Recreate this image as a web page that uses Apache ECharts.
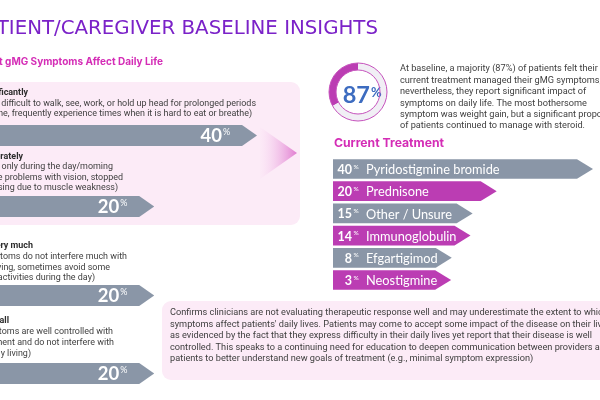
<!DOCTYPE html>
<html><head><meta charset="utf-8">
<script src="https://cdn.jsdelivr.net/npm/echarts@6/dist/echarts.min.js"></script>
<style>html,body{margin:0;padding:0;background:#fff}#c{width:600px;height:400px}</style>
</head><body><div id="c"></div>
<script>
// ---------- data ----------
const titleText = 'PATIENT/CAREGIVER BASELINE INSIGHTS';
const impactTitle = 'Extent gMG Symptoms Affect Daily Life';
const impactLevels = ['Significantly', 'Moderately', 'Not very much', 'Not at all'];
const impactValues = [40, 20, 20, 20];
const impactDescriptions = [
  ['(Symptoms make it difficult to walk, see, work, or hold up head for prolonged periods',
   'of time, frequently experience times when it is hard to eat or breathe)'],
  ['(Symptoms occur only during the day/moming',
   'or I have problems with vision, stopped',
   'exercising due to muscle weakness)'],
  ['(Symptoms do not interfere much with',
   'daily living, sometimes avoid some',
   'physical activities during the day)'],
  ['(Symptoms are well controlled with',
   'treatment and do not interfere with',
   'daily living)']
];
const satisfiedPct = 87;
const ringArcShares = [33, 67];
const summaryLines = [
  'At baseline, a majority (87%) of patients felt their',
  'current treatment managed their gMG symptoms;',
  'nevertheless, they report significant impact of',
  'symptoms on daily life. The most bothersome',
  'symptom was weight gain, but a significant proportion',
  'of patients continued to manage with steroid.'
];
const treatmentTitle = 'Current Treatment';
const treatments = ['Pyridostigmine bromide', 'Prednisone', 'Other / Unsure', 'Immunoglobulin', 'Efgartigimod', 'Neostigmine'];
const treatmentValues = [40, 20, 15, 14, 8, 3];
const conclusionLines = [
  'Confirms clinicians are not evaluating therapeutic response well and may underestimate the extent to which',
  "symptoms affect patients' daily lives. Patients may come to accept some impact of the disease on their lives",
  'as evidenced by the fact that they express difficulty in their daily lives yet report that their disease is well',
  'controlled. This speaks to a continuing need for education to deepen communication between providers and',
  'patients to better understand new goals of treatment (e.g., minimal symptom expression)'
];

// ---------- styles / layout ----------
const GRAY = '#8a96a7';
const MAGENTA = '#bb3db3';
const PINK_BG = '#fcebf7';
const TXT = '#3e3e3e';
const BODY_FONT = 'Roboto, "Noto Sans", sans-serif';
const HEAD_FONT = 'Inter, "Noto Sans", sans-serif';
const TITLE_FONT = '"DejaVu Sans", sans-serif';

const chart = echarts.init(document.getElementById('c'), null, {renderer: 'canvas'});

const measureCtx = document.createElement('canvas').getContext('2d');
function textWidth(str, font) { measureCtx.font = font; return measureCtx.measureText(str).width; }

// left impact arrows: one grid per row
const impactRowCenters = [135.5, 206.5, 295.5, 373.5];
const impactRowH = 21;
const grids = [], xAxes = [], yAxes = [], series = [];
impactLevels.forEach((lvl, i) => {
  grids.push({left: -30, right: 343, top: impactRowCenters[i] - impactRowH / 2, height: impactRowH, containLabel: false});
  xAxes.push({type: 'value', gridIndex: i, min: -10, max: 40, show: false});
  yAxes.push({type: 'category', gridIndex: i, data: [lvl], show: false});
  series.push({
    type: 'custom', xAxisIndex: i, yAxisIndex: i, silent: true,
    data: [[impactValues[i], 0]],
    renderItem: function (params, api) {
      const tip = api.coord([api.value(0), 0]);
      const start = api.coord([-10, 0]);
      const h = api.size([0, 1])[1];
      const y0 = tip[1] - h / 2, y1 = tip[1] + h / 2;
      const head = 15;
      return {type: 'group', children: [
        {type: 'polygon', shape: {points: [[start[0], y0], [tip[0] - head, y0], [tip[0], tip[1]], [tip[0] - head, y1], [start[0], y1]]}, style: {fill: GRAY}},
        {type: 'text', style: {text: String(api.value(0)), x: tip[0] - 35, y: tip[1] + 1, font: 'bold 18.5px Lato, sans-serif', fill: '#fff', textAlign: 'right', textVerticalAlign: 'middle', align: 'right', verticalAlign: 'middle'}},
        {type: 'text', style: {text: '%', x: tip[0] - 34, y: tip[1] - 8, font: '9px Lato, sans-serif', fill: '#fff', textAlign: 'left', textVerticalAlign: 'top', align: 'left', verticalAlign: 'top'}}
      ]};
    }
  });
});

// treatment arrows
const tGrid = grids.length;
grids.push({left: 333, right: 7, top: 157.9, height: 133.2});
xAxes.push({type: 'value', gridIndex: tGrid, min: -14, max: 40, show: false});
yAxes.push({type: 'category', gridIndex: tGrid, data: treatments, inverse: true, show: false});
const NAME_FONT = '12.8px Lato, sans-serif';
series.push({
  type: 'custom', xAxisIndex: tGrid, yAxisIndex: tGrid, silent: true,
  data: treatmentValues.map((v, i) => [v, i]),
  renderItem: function (params, api) {
    const idx = api.value(1);
    const c = api.coord([api.value(0), idx]);
    const start = api.coord([-14, idx])[0];
    const h = api.size([0, 1])[1] - 2.5;
    const y0 = c[1] - h / 2, y1 = c[1] + h / 2;
    const numRight = start + 19;
    const nameX = start + 33;
    const labelEnd = nameX + textWidth(treatments[idx], NAME_FONT);
    const tip = Math.max(c[0], labelEnd + 14);
    const head = 16;
    const color = idx % 2 === 0 ? GRAY : MAGENTA;
    return {type: 'group', children: [
      {type: 'polygon', shape: {points: [[start, y0], [tip - head, y0], [tip, c[1]], [tip - head, y1], [start, y1]]}, style: {fill: color}},
      {type: 'text', style: {text: String(api.value(0)), x: numRight, y: c[1] + 1, font: 'bold 12.5px Lato, sans-serif', fill: '#fff', textAlign: 'right', textVerticalAlign: 'middle', align: 'right', verticalAlign: 'middle'}},
      {type: 'text', style: {text: '%', x: numRight + 1.5, y: c[1] - 6, font: '6.5px Lato, sans-serif', fill: '#fff', textAlign: 'left', textVerticalAlign: 'top', align: 'left', verticalAlign: 'top'}},
      {type: 'text', style: {text: treatments[idx], x: nameX, y: c[1] + 1, font: NAME_FONT, fill: '#fff', textAlign: 'left', textVerticalAlign: 'middle', align: 'left', verticalAlign: 'middle'}}
    ]};
  }
});

// ring
series.push({
  type: 'pie', center: [358, 92], radius: [22, 29], silent: true, startAngle: 90, clockwise: false,
  label: {show: false}, labelLine: {show: false},
  data: [{value: ringArcShares[0], itemStyle: {color: MAGENTA}}, {value: ringArcShares[1], itemStyle: {color: '#f1eff5'}}],
  z: 2
});

function t(x, y, text, font, fill, align, valign, extra) {
  return Object.assign({type: 'text', x: x, y: y, z: 20, silent: true,
    style: Object.assign({text: text, font: font, fill: fill, textAlign: align, textVerticalAlign: valign, align: align, verticalAlign: valign}, extra || {})});
}

const graphics = [];
graphics.push({type: 'rect', shape: {x: -10, y: 82, width: 310, height: 143, r: 9}, style: {fill: PINK_BG}, z: -1, silent: true});
graphics.push({type: 'rect', shape: {x: 162, y: 301, width: 460, height: 79, r: 9}, style: {fill: PINK_BG}, z: -1, silent: true});
graphics.push({type: 'polygon', shape: {points: [[260, 127], [297, 153], [260, 179]]}, z: 1, silent: true,
  style: {fill: new echarts.graphic.LinearGradient(0, 0, 1, 0, [{offset: 0, color: 'rgba(245,205,238,0.05)'}, {offset: 1, color: 'rgba(222,115,205,0.92)'}])}});

graphics.push(t(378, 28.5, titleText, '19.8px ' + TITLE_FONT, '#7b22c8', 'right', 'middle'));
graphics.push(t(163, 62, impactTitle, 'bold 10px ' + HEAD_FONT, '#d42db6', 'right', 'middle'));

const blockLayout = [
  {head: [28, 93], lines: [[256, 103.5], [252, 114]]},
  {head: [23, 156.5], lines: [[113, 167], [123, 177.5], [118, 188]]},
  {head: [33, 246], lines: [[127, 257], [110, 267.5], [95, 278]]},
  {head: [9, 321], lines: [[113, 332], [114, 343], [31, 354]]}
];
const DESC_FONT = '8.95px ' + BODY_FONT;
impactLevels.forEach((lvl, i) => {
  const L = blockLayout[i];
  graphics.push(t(L.head[0], L.head[1], lvl, 'bold ' + DESC_FONT, '#2d2d2d', 'right', 'middle'));
  impactDescriptions[i].forEach((line, j) => {
    graphics.push(t(L.lines[j][0], L.lines[j][1], line, DESC_FONT, TXT, 'right', 'middle'));
  });
});

// ring outlines + label
graphics.push({type: 'circle', shape: {cx: 358, cy: 92, r: 29}, style: {fill: 'none', stroke: '#c653bd', lineWidth: 1}, z: 30, silent: true});
graphics.push({type: 'circle', shape: {cx: 358, cy: 92, r: 22}, style: {fill: 'none', stroke: '#c653bd', lineWidth: 1}, z: 30, silent: true});
graphics.push(t(370, 95.5, String(satisfiedPct), 'bold 23.5px Lato, sans-serif', '#3d6cc0', 'right', 'middle'));
graphics.push(t(371, 86, '%', 'bold 13px Lato, sans-serif', '#3d6cc0', 'left', 'top'));

graphics.push(t(400, 63.3, summaryLines.join('\n'), '9.2px ' + BODY_FONT, TXT, 'left', 'top', {lineHeight: 11.4}));
graphics.push(t(334, 143, treatmentTitle, 'bold 12.2px ' + HEAD_FONT, '#d42db6', 'left', 'middle'));
graphics.push(t(170, 307.3, conclusionLines.join('\n'), '9.2px ' + BODY_FONT, TXT, 'left', 'top', {lineHeight: 11.5}));

chart.setOption({
  backgroundColor: '#ffffff',
  animation: false,
  grid: grids, xAxis: xAxes, yAxis: yAxes, series: series,
  graphic: {elements: graphics}
});
</script></body></html>
